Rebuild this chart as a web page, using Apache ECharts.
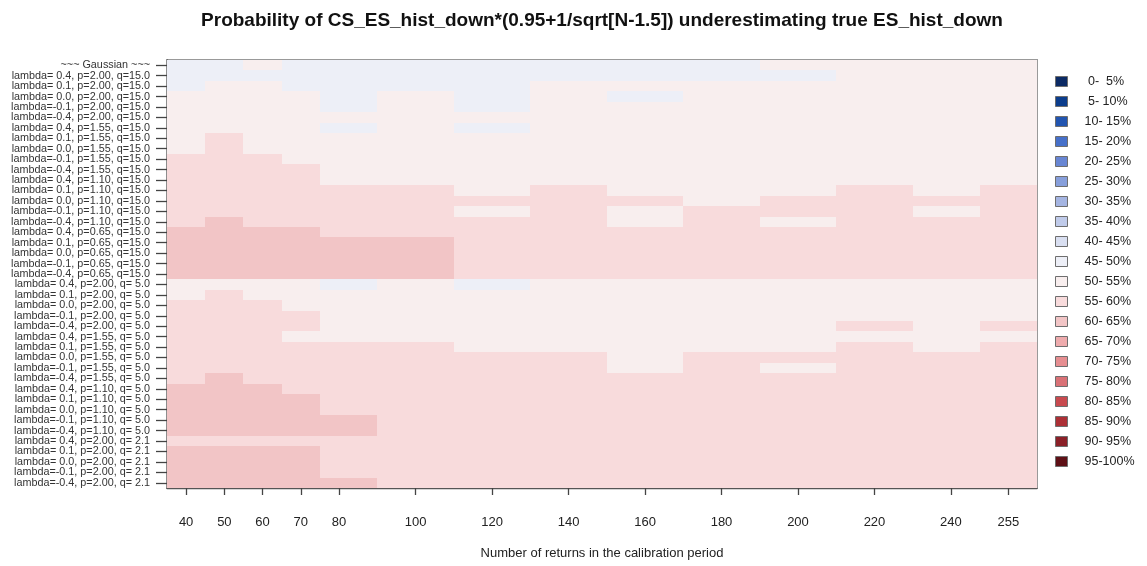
<!DOCTYPE html>
<html><head><meta charset="utf-8">
<script src="https://cdn.jsdelivr.net/npm/echarts@6/dist/echarts.min.js"></script>
<style>html,body{margin:0;padding:0;background:#fff}#c{width:1147px;height:566px}</style>
</head><body><div id="c"></div>
<script>
const chartTitle = 'Probability of CS_ES_hist_down*(0.95+1/sqrt[N-1.5]) underestimating true ES_hist_down';
const xTitle = 'Number of returns in the calibration period';
const nReturns = [40, 50, 60, 70, 80, 100, 120, 140, 160, 180, 200, 220, 240, 255];
const rowLabels = [
  '~~~ Gaussian ~~~',
  'lambda= 0.4, p=2.00, q=15.0','lambda= 0.1, p=2.00, q=15.0','lambda= 0.0, p=2.00, q=15.0','lambda=-0.1, p=2.00, q=15.0','lambda=-0.4, p=2.00, q=15.0',
  'lambda= 0.4, p=1.55, q=15.0','lambda= 0.1, p=1.55, q=15.0','lambda= 0.0, p=1.55, q=15.0','lambda=-0.1, p=1.55, q=15.0','lambda=-0.4, p=1.55, q=15.0',
  'lambda= 0.4, p=1.10, q=15.0','lambda= 0.1, p=1.10, q=15.0','lambda= 0.0, p=1.10, q=15.0','lambda=-0.1, p=1.10, q=15.0','lambda=-0.4, p=1.10, q=15.0',
  'lambda= 0.4, p=0.65, q=15.0','lambda= 0.1, p=0.65, q=15.0','lambda= 0.0, p=0.65, q=15.0','lambda=-0.1, p=0.65, q=15.0','lambda=-0.4, p=0.65, q=15.0',
  'lambda= 0.4, p=2.00, q= 5.0','lambda= 0.1, p=2.00, q= 5.0','lambda= 0.0, p=2.00, q= 5.0','lambda=-0.1, p=2.00, q= 5.0','lambda=-0.4, p=2.00, q= 5.0',
  'lambda= 0.4, p=1.55, q= 5.0','lambda= 0.1, p=1.55, q= 5.0','lambda= 0.0, p=1.55, q= 5.0','lambda=-0.1, p=1.55, q= 5.0','lambda=-0.4, p=1.55, q= 5.0',
  'lambda= 0.4, p=1.10, q= 5.0','lambda= 0.1, p=1.10, q= 5.0','lambda= 0.0, p=1.10, q= 5.0','lambda=-0.1, p=1.10, q= 5.0','lambda=-0.4, p=1.10, q= 5.0',
  'lambda= 0.4, p=2.00, q= 2.1','lambda= 0.1, p=2.00, q= 2.1','lambda= 0.0, p=2.00, q= 2.1','lambda=-0.1, p=2.00, q= 2.1','lambda=-0.4, p=2.00, q= 2.1'
];
const binLabels = [' 0-  5%',' 5- 10%','10- 15%','15- 20%','20- 25%','25- 30%','30- 35%','35- 40%','40- 45%','45- 50%',
  '50- 55%','55- 60%','60- 65%','65- 70%','70- 75%','75- 80%','80- 85%','85- 90%','90- 95%','95-100%'];
const binColors = ['#0c2a64','#0c3d8c','#2255b0','#4670c9','#6886d3','#879fdb','#a5b5e2','#c0cbea','#d9dff1','#edeff7',
  '#f8eeee','#f8dbdc','#f2c5c6','#eeabad','#e68e91','#d97176','#c84a4f','#ac3036','#8b2028','#5e1016'];
// lower bound (%) of the probability bin of each cell: rows = rowLabels, columns = nReturns
const probLow = [
  [45,45,50,45,45,45,45,45,45,45,50,50,50,50],
  [45,45,45,45,45,45,45,45,45,45,45,50,50,50],
  [45,50,50,45,45,45,45,50,50,50,50,50,50,50],
  [50,50,50,50,45,50,45,50,45,50,50,50,50,50],
  [50,50,50,50,45,50,45,50,50,50,50,50,50,50],
  [50,50,50,50,50,50,50,50,50,50,50,50,50,50],
  [50,50,50,50,45,50,45,50,50,50,50,50,50,50],
  [50,55,50,50,50,50,50,50,50,50,50,50,50,50],
  [50,55,50,50,50,50,50,50,50,50,50,50,50,50],
  [55,55,55,50,50,50,50,50,50,50,50,50,50,50],
  [55,55,55,55,50,50,50,50,50,50,50,50,50,50],
  [55,55,55,55,50,50,50,50,50,50,50,50,50,50],
  [55,55,55,55,55,55,50,55,50,50,50,55,50,55],
  [55,55,55,55,55,55,55,55,55,50,55,55,55,55],
  [55,55,55,55,55,55,50,55,50,55,55,55,50,55],
  [55,60,55,55,55,55,55,55,50,55,50,55,55,55],
  [60,60,60,60,55,55,55,55,55,55,55,55,55,55],
  [60,60,60,60,60,60,55,55,55,55,55,55,55,55],
  [60,60,60,60,60,60,55,55,55,55,55,55,55,55],
  [60,60,60,60,60,60,55,55,55,55,55,55,55,55],
  [60,60,60,60,60,60,55,55,55,55,55,55,55,55],
  [50,50,50,50,45,50,45,50,50,50,50,50,50,50],
  [50,55,50,50,50,50,50,50,50,50,50,50,50,50],
  [55,55,55,50,50,50,50,50,50,50,50,50,50,50],
  [55,55,55,55,50,50,50,50,50,50,50,50,50,50],
  [55,55,55,55,50,50,50,50,50,50,50,55,50,55],
  [55,55,55,50,50,50,50,50,50,50,50,50,50,50],
  [55,55,55,55,55,55,50,50,50,50,50,55,50,55],
  [55,55,55,55,55,55,55,55,50,55,55,55,55,55],
  [55,55,55,55,55,55,55,55,50,55,50,55,55,55],
  [55,60,55,55,55,55,55,55,55,55,55,55,55,55],
  [60,60,60,55,55,55,55,55,55,55,55,55,55,55],
  [60,60,60,60,55,55,55,55,55,55,55,55,55,55],
  [60,60,60,60,55,55,55,55,55,55,55,55,55,55],
  [60,60,60,60,60,55,55,55,55,55,55,55,55,55],
  [60,60,60,60,60,55,55,55,55,55,55,55,55,55],
  [55,55,55,55,55,55,55,55,55,55,55,55,55,55],
  [60,60,60,60,55,55,55,55,55,55,55,55,55,55],
  [60,60,60,60,55,55,55,55,55,55,55,55,55,55],
  [60,60,60,60,55,55,55,55,55,55,55,55,55,55],
  [60,60,60,60,60,55,55,55,55,55,55,55,55,55]
];

// cell edges on the x scale: midpoints between neighbouring N values
const n = nReturns.length;
const lo = nReturns.map((v, i) => i === 0 ? v - (nReturns[1] - v) / 2 : (nReturns[i - 1] + v) / 2);
const hi = nReturns.map((v, i) => i === n - 1 ? v + (v - nReturns[n - 2]) / 2 : (v + nReturns[i + 1]) / 2);

const cellsByBin = binLabels.map(() => []);
probLow.forEach((row, r) => row.forEach((p, c) => {
  cellsByBin[Math.round(p / 5)].push([lo[c], hi[c], r]);
}));

function renderCell(params, api) {
  const a = api.coord([api.value(0), api.value(2)]);
  const b = api.coord([api.value(1), api.value(2)]);
  const h = api.size([0, 1])[1];
  const x0 = Math.round(a[0]), x1 = Math.round(b[0]);
  const y0 = Math.round(a[1] - h / 2), y1 = Math.round(a[1] + h / 2);
  return { type: 'rect', shape: { x: x0, y: y0, width: x1 - x0, height: y1 - y0 },
           style: { fill: api.visual('color') } };
}

const font = 'Liberation Sans, Arial, sans-serif';
const chart = echarts.init(document.getElementById('c'), null, { renderer: 'canvas' });
chart.setOption({
  animation: false,
  backgroundColor: '#ffffff',
  title: {
    text: chartTitle, left: 597, top: 6, textAlign: 'center',
    textStyle: { fontFamily: font, fontSize: 19, fontWeight: 'bold', color: '#111' }
  },
  legend: {
    orient: 'vertical', left: 1050, top: 70, itemWidth: 12, itemHeight: 10, itemGap: 7,
    icon: 'rect', selectedMode: false, data: binLabels,
    itemStyle: { borderColor: '#6e6e6e', borderWidth: 1 },
    textStyle: { fontFamily: font, fontSize: 12.5, color: '#222', padding: [0, 0, 0, 12] }
  },
  grid: { left: 167, right: 110, top: 60, bottom: 78, show: true, borderColor: '#999', borderWidth: 2, backgroundColor: 'transparent' },
  xAxis: {
    type: 'value', min: lo[0], max: hi[n - 1],
    name: xTitle, nameLocation: 'middle', nameGap: 59,
    nameTextStyle: { fontFamily: font, fontSize: 13, color: '#222' },
    axisLine: { show: true, lineStyle: { color: '#555', width: 1.3 } },
    axisTick: { show: true, customValues: nReturns, length: 7, lineStyle: { color: '#444', width: 1.3 } },
    axisLabel: { customValues: nReturns, margin: 28, fontFamily: font, fontSize: 13, color: '#222' },
    splitLine: { show: false }
  },
  yAxis: {
    type: 'category', data: rowLabels, inverse: true,
    axisLine: { show: true, lineStyle: { color: '#555', width: 1.3 } },
    axisTick: { show: true, alignWithLabel: true, interval: 0, length: 11, lineStyle: { color: '#444', width: 1.3 } },
    axisLabel: { interval: 0, margin: 17, fontFamily: font, fontSize: 10.8, color: '#333' },
    splitLine: { show: false }
  },
  series: binLabels.map((name, b) => ({
    type: 'custom', name: name, renderItem: renderCell, clip: true,
    itemStyle: { color: binColors[b] },
    encode: { x: [0, 1], y: 2 },
    data: cellsByBin[b]
  }))
});
</script></body></html>
